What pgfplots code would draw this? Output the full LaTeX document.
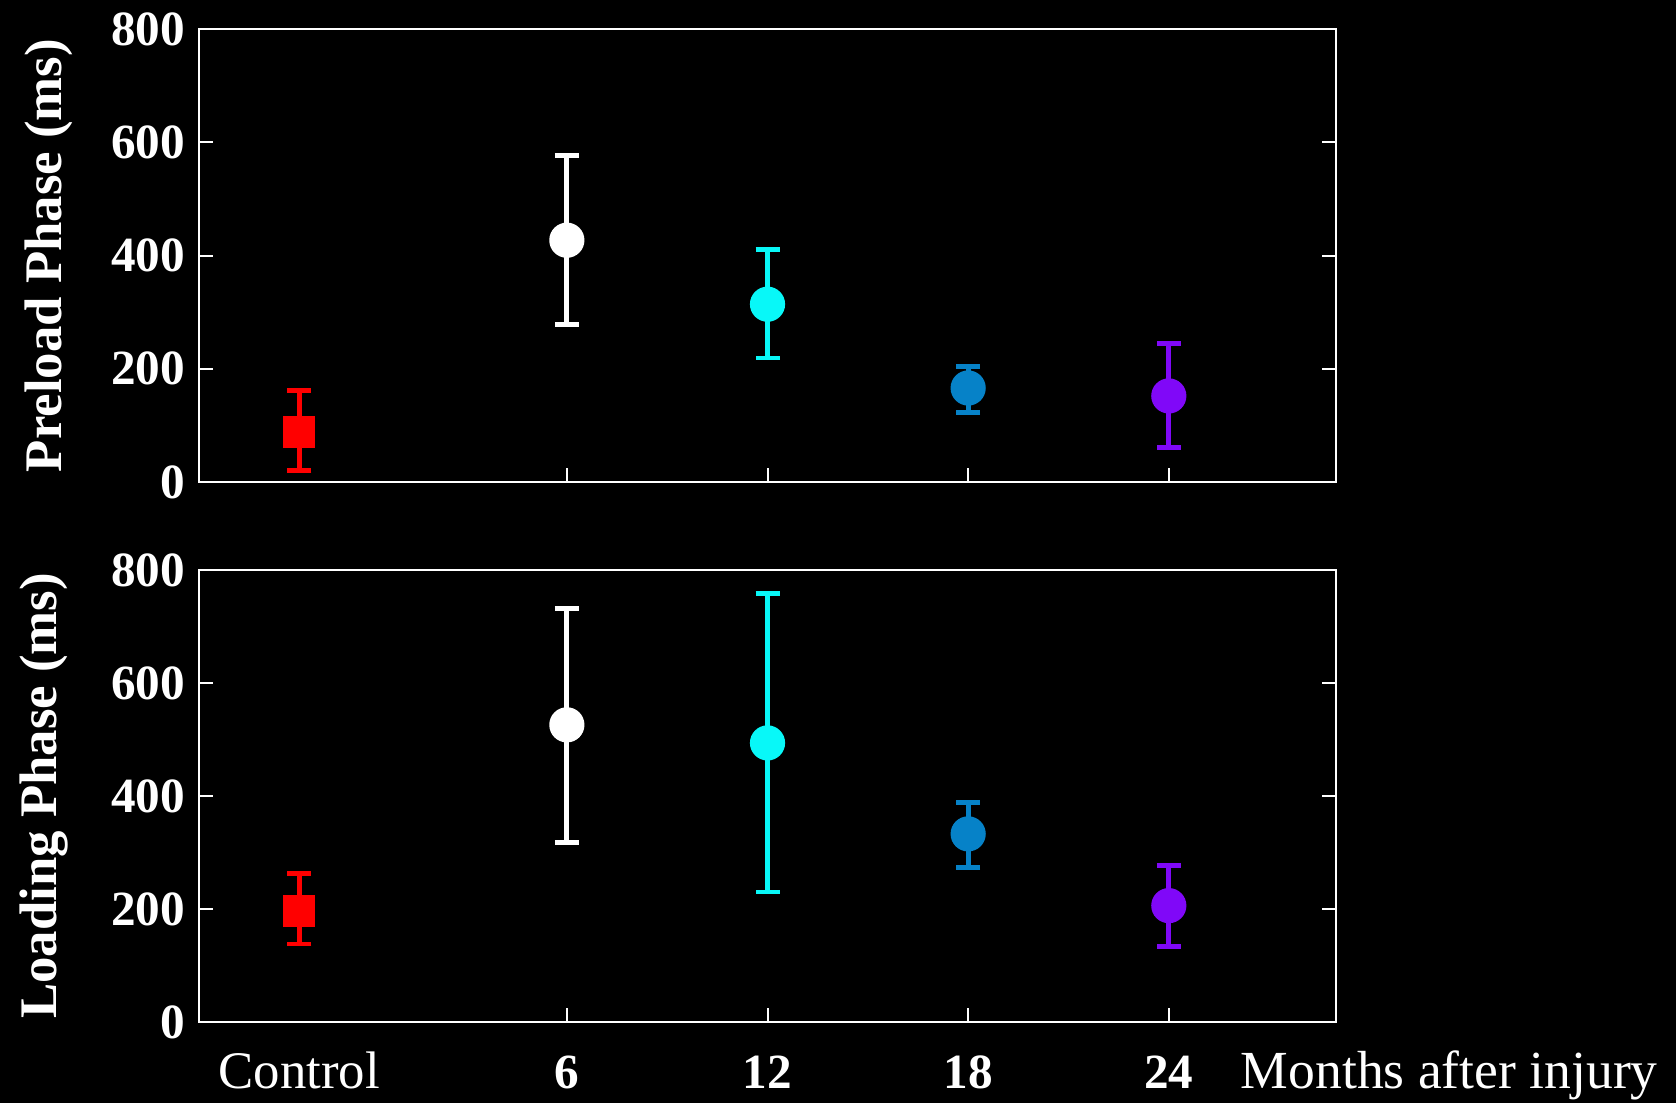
\documentclass[border=0pt]{standalone}
\usepackage{pgfplots}
\pgfplotsset{compat=1.18}
\usepackage{pgfplotstable}
\usepackage{fontspec}
\setmainfont{Liberation Serif}
\definecolor{cred}{RGB}{255,0,0}
\definecolor{ccyan}{RGB}{8,248,248}
\definecolor{cblue}{RGB}{6,130,200}
\definecolor{cpurple}{RGB}{128,8,248}

\pgfplotstableread{
x y ep em
-2 88 73 67
}\preCtrl
\pgfplotstableread{
x y ep em
6 427 150 149
}\preSix
\pgfplotstableread{
x y ep em
12 314 97 95
}\preTwelve
\pgfplotstableread{
x y ep em
18 166 38 43
}\preEighteen
\pgfplotstableread{
x y ep em
24 152 93 91
}\preTwentyfour

\pgfplotstableread{
x y ep em
-2 197 66 59
}\loadCtrl
\pgfplotstableread{
x y ep em
6 526 206 208
}\loadSix
\pgfplotstableread{
x y ep em
12 494 264 264
}\loadTwelve
\pgfplotstableread{
x y ep em
18 333 56 59
}\loadEighteen
\pgfplotstableread{
x y ep em
24 206 71 73
}\loadTwentyfour

\pgfplotsset{
  myax/.style={
    scale only axis, width=284.25pt, height=113.25pt,
    xmin=-5, xmax=29, ymin=0, ymax=800,
    axis line style={white, line width=0.7pt},
    ytick={0,200,400,600,800},
    ytick pos=both, yticklabel pos=left,
    xtick pos=bottom,
    tick style={white, line width=0.5pt},
    major tick length=3.5pt,
    tick align=inside,
    /pgf/number format/assume math mode=true,
    yticklabel style={font=\fontsize{12.3}{12.3}\selectfont\bfseries, text=white},
    ylabel style={font=\fontsize{13.2}{13.2}\selectfont\bfseries, text=white, anchor=base},
  },
  eb/.style={only marks, mark=*, mark size=4.2pt, color=#1,
    mark options={fill=#1, draw=#1},
    error bars/.cd, y dir=both, y explicit,
    error bar style={line width=1.2pt, color=#1},
    error mark options={rotate=90, mark size=3pt, line width=1.2pt, color=#1}},
  ebsq/.style={only marks, mark=square*, mark size=3.8pt, color=#1,
    mark options={fill=#1, draw=#1},
    error bars/.cd, y dir=both, y explicit,
    error bar style={line width=1.2pt, color=#1},
    error mark options={rotate=90, mark size=3pt, line width=1.2pt, color=#1}},
}

\begin{document}
\begin{tikzpicture}
\useasboundingbox (0,0) rectangle (419pt,275.75pt);
\fill[black] (0,0) rectangle (419pt,275.75pt);

\begin{axis}[myax, at={(49.75pt,155.25pt)}, anchor=south west,
  xtick={6,12,18,24}, xticklabels={},
  ylabel={Preload Phase (ms)},
  ylabel style={at={(axis description cs:-0.1205,0.5)}},
]
\addplot[ebsq=cred] table[x=x,y=y,y error plus=ep,y error minus=em] {\preCtrl};
\addplot[eb=white] table[x=x,y=y,y error plus=ep,y error minus=em] {\preSix};
\addplot[eb=ccyan] table[x=x,y=y,y error plus=ep,y error minus=em] {\preTwelve};
\addplot[eb=cblue] table[x=x,y=y,y error plus=ep,y error minus=em] {\preEighteen};
\addplot[eb=cpurple] table[x=x,y=y,y error plus=ep,y error minus=em] {\preTwentyfour};
\end{axis}

\begin{axis}[myax, at={(49.75pt,20.25pt)}, anchor=south west, height=113pt,
  xtick={6,12,18,24}, xticklabels={6,12,18,24},
  xticklabel style={font=\fontsize{12.3}{12.3}\selectfont\bfseries, text=white, anchor=base, yshift=-16.5pt},
  extra x ticks={-2}, extra x tick labels={Control},
  extra x tick style={major tick length=0pt, xticklabel style={font=\fontsize{13.2}{13.2}\selectfont\mdseries}},
  xlabel={Months after injury},
  xlabel style={at={(axis description cs:0.9156,0)}, anchor=base west, inner sep=0pt, yshift=-16.5pt, font=\fontsize{13.4}{13.4}\selectfont, text=white},
  ylabel={Loading Phase (ms)},
  ylabel style={at={(axis description cs:-0.1249,0.5)}},
]
\addplot[ebsq=cred] table[x=x,y=y,y error plus=ep,y error minus=em] {\loadCtrl};
\addplot[eb=white] table[x=x,y=y,y error plus=ep,y error minus=em] {\loadSix};
\addplot[eb=ccyan] table[x=x,y=y,y error plus=ep,y error minus=em] {\loadTwelve};
\addplot[eb=cblue] table[x=x,y=y,y error plus=ep,y error minus=em] {\loadEighteen};
\addplot[eb=cpurple] table[x=x,y=y,y error plus=ep,y error minus=em] {\loadTwentyfour};
\end{axis}
\end{tikzpicture}
\end{document}
